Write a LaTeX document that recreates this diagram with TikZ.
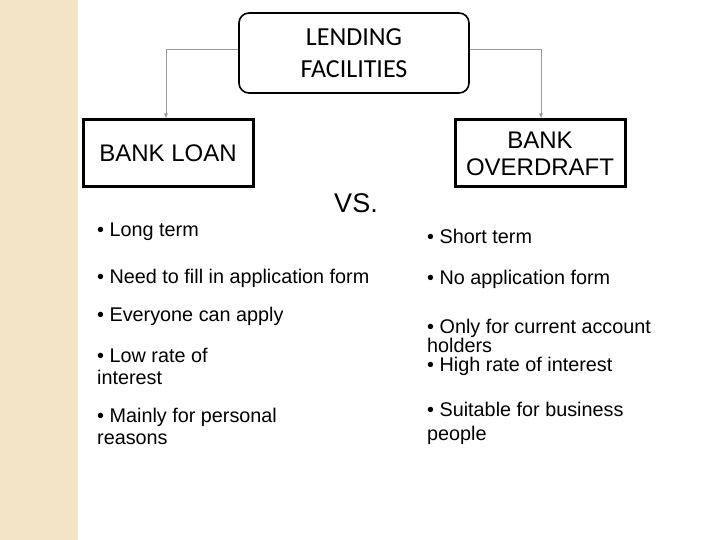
\documentclass[tikz,border=0pt]{standalone}
\usepackage{fontspec}
\setmainfont{Liberation Sans}
\newfontfamily\calib{Carlito}
\begin{document}
\begin{tikzpicture}[x=1pt,y=-1pt,
  box/.style={draw=black,line width=3pt,inner sep=0pt},
  conn/.style={draw=gray!80,line width=0.8pt,-latex},
  txt/.style={anchor=north west,align=left,inner sep=0pt,font=\fontsize{19.8}{22}\selectfont}]
\useasboundingbox (0,0) rectangle (720,540);
\fill[color={rgb,255:red,242;green,228;blue,196}] (0,0) rectangle (78,540);
\node[draw=black,line width=1.6pt,rounded corners=10pt,minimum width=230pt,minimum height=80pt,align=center,font=\calib\fontsize{26}{32}\selectfont] (top) at (354,53) {LENDING\\FACILITIES};
\node[box,minimum width=170pt,minimum height=67pt,font=\fontsize{24}{26}\selectfont] (loan) at (168,153.5) {BANK LOAN};
\node[box,minimum width=170pt,minimum height=67pt,align=center,font=\fontsize{24}{27}\selectfont] (od) at (540,153.5) {BANK\\OVERDRAFT};
\draw[conn] (top.west |- 0,49) -| (loan.north -| 166,0);
\draw[conn] (top.east |- 0,49) -| (od.north -| 541,0);
\node[font=\fontsize{27}{28}\selectfont] (vs) at (356,203) {VS.};
\node[txt] (l1) at (97,223) {• Long term};
\node[txt] (l2) at (97,269) {• Need to fill in application form};
\node[txt] (l3) at (97,307) {• Everyone can apply};
\node[txt] (l4) at (97,348) {• Low rate of\\interest};
\node[txt] (l5) at (97,408) {• Mainly for personal\\reasons};
\node[txt] (r1) at (427,229) {• Short term};
\node[txt] (r2) at (427,270) {• No application form};
\node[txt,font=\fontsize{19.8}{19}\selectfont] (r3) at (427,319) {• Only for current account\\holders\\• High rate of interest};
\node[txt,font=\fontsize{19.8}{24}\selectfont] (r5) at (427,402) {• Suitable for business\\people};
\end{tikzpicture}
\end{document}
